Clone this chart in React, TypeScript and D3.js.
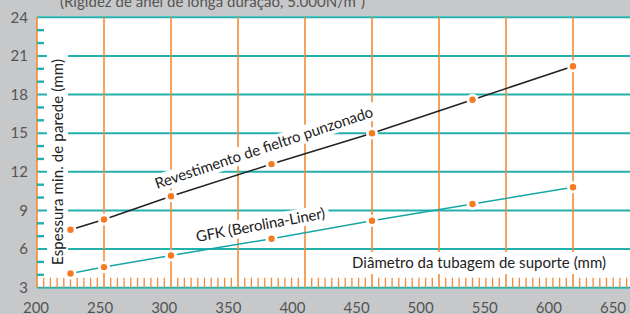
import * as d3 from "d3";

// pipe diameters (mm)
const diameters = [225, 250, 300, 375, 450, 525, 600];
const feltroValues = [7.5, 8.3, 10.1, 12.6, 15.0, 17.6, 20.2];
const gfkValues = [4.1, 4.6, 5.5, 6.8, 8.2, 9.5, 10.8];

const xTickLabels = [200, 250, 300, 350, 400, 450, 500, 550, 600, 650];
const yTickLabels = [3, 6, 9, 12, 15, 18, 21, 24];

const subtitle = "(Rigidez de anel de longa duração, 5.000N/m²)";
const yTitle = "Espessura min. de parede (mm)";
const xTitle = "Diâmetro da tubagem de suporte (mm)";
const feltroLabel = "Revestimento de fieltro punzonado";
const gfkLabel = "GFK (Berolina-Liner)";

const W = 630;
const H = 314;
const FONT = "Lato, 'Open Sans', sans-serif";
const TEAL = "#22b0ad";
const ORANGE = "#f28b36";
const DOT = "#f47b20";

const App = () => {
  const x = d3.scaleLinear().domain([200, 650]).range([37, 640]);
  // the printed numbers under the axis drift from the grid in the source
  const xLabel = d3.scaleLinear().domain([200, 650]).range([36, 613]);
  const y = d3.scaleLinear().domain([3, 24]).range([287.7, 17.3]);

  const minorY = d3.range(4, 24).filter((v) => v % 3 !== 0);
  const minorX = d3.range(205, 650, 5).filter((v) => v % 50 !== 0);

  const line = d3
    .line<number>()
    .x((d, i) => x(diameters[i]))
    .y((d) => y(d));

  const series = [
    { values: feltroValues, color: "#222" },
    { values: gfkValues, color: "#17a6a6" },
  ];

  return (
    <svg
      width={W}
      height={H}
      style={{ position: "absolute", left: 0, top: 0 }}
      fontFamily={FONT}
    >
      <rect width={W} height={H} fill="#c7c8ca" />
      <text x={60} y={6.5} fontSize={15} fill="#555" textLength={305}>
        {subtitle}
      </text>
      <rect
        x={x(200)}
        y={y(24) - 1}
        width={W - x(200)}
        height={y(3) - y(24) + 2}
        fill="#fff"
      />

      {/* grid */}
      {yTickLabels.map((v) => (
        <line
          key={"gy" + v}
          x1={x(200)}
          x2={W}
          y1={y(v)}
          y2={y(v)}
          stroke={TEAL}
          strokeWidth={2}
        />
      ))}
      {xTickLabels.map((v) => (
        <line
          key={"gx" + v}
          x1={x(v)}
          x2={x(v)}
          y1={y(24)}
          y2={y(3)}
          stroke={ORANGE}
          strokeWidth={1.6}
        />
      ))}
      {minorY.map((v) => (
        <line
          key={"my" + v}
          x1={x(200)}
          x2={x(200) + 7}
          y1={y(v)}
          y2={y(v)}
          stroke={TEAL}
          strokeWidth={2.4}
        />
      ))}
      {minorX.map((v) => (
        <line
          key={"mx" + v}
          x1={x(v)}
          x2={x(v)}
          y1={y(3)}
          y2={y(3) - 10}
          stroke={ORANGE}
          strokeWidth={1.3}
        />
      ))}

      {/* knockouts for titles */}
      <rect x={47} y={52} width={21} height={220} fill="#fff" />
      <rect x={346} y={252} width={266} height={22} fill="#fff" />
      <g transform="translate(157,189) rotate(-18.5)">
        <rect x={-3} y={-14} width={236} height={18} fill="#fff" />
      </g>
      <g transform="translate(197,242) rotate(-10.5)">
        <rect x={-3} y={-14} width={138} height={18} fill="#fff" />
      </g>

      {/* series */}
      {series.map((s, k) => (
        <path
          key={"l" + k}
          d={line(s.values) || ""}
          fill="none"
          stroke={s.color}
          strokeWidth={1.5}
        />
      ))}
      {series.map((s, k) =>
        s.values.map((v, i) => (
          <circle
            key={"h" + k + i}
            cx={x(diameters[i])}
            cy={y(v)}
            r={6}
            fill="#fff"
          />
        ))
      )}
      {series.map((s, k) =>
        s.values.map((v, i) => (
          <circle
            key={"p" + k + i}
            cx={x(diameters[i])}
            cy={y(v)}
            r={3.2}
            fill={DOT}
          />
        ))
      )}

      {/* labels */}
      <text
        transform="translate(157,189) rotate(-18.5)"
        fontSize={15}
        fill="#222"
        textLength={229}
      >
        {feltroLabel}
      </text>
      <text
        transform="translate(197,242) rotate(-10.5)"
        fontSize={15}
        fill="#222"
        textLength={131}
      >
        {gfkLabel}
      </text>
      <text
        transform={`translate(62.5,${(52 + 272) / 2}) rotate(-90)`}
        textAnchor="middle"
        fontSize={15}
        fill="#222"
        textLength={206}
      >
        {yTitle}
      </text>
      <text x={352} y={268} fontSize={15} fill="#222" textLength={254}>
        {xTitle}
      </text>

      {/* tick labels */}
      {yTickLabels.map((v) => (
        <text
          key={"ty" + v}
          x={28}
          y={y(v)}
          dy="0.35em"
          textAnchor="end"
          fontSize={15}
          fill="#555"
        >
          {v}
        </text>
      ))}
      {xTickLabels.map((v) => (
        <text
          key={"tx" + v}
          x={xLabel(v)}
          y={312.5}
          textAnchor="middle"
          fontSize={15}
          fill="#555"
        >
          {v}
        </text>
      ))}
    </svg>
  );
};

export default App;
